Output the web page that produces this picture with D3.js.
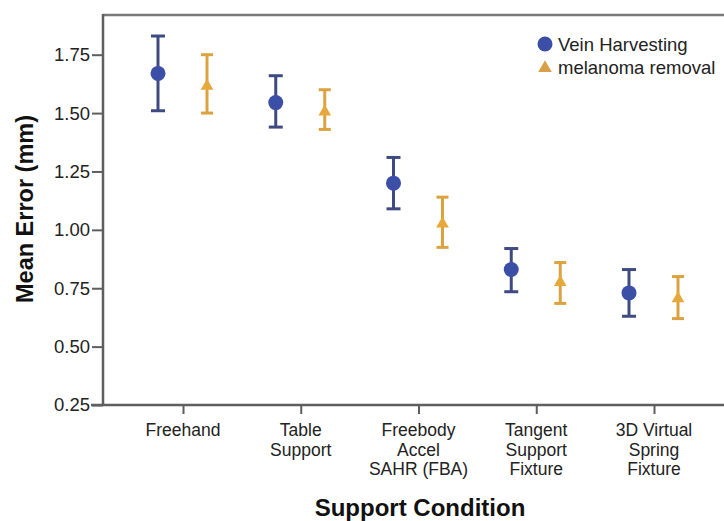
<!DOCTYPE html>
<html>
<head>
<meta charset="utf-8">
<script src="https://cdn.jsdelivr.net/npm/d3@7"></script>
<style>
  html, body { margin: 0; padding: 0; background: #fff; }
  svg { display: block; font-family: "Liberation Sans", Arial, sans-serif; }
</style>
</head>
<body>
<svg id="chart" width="724" height="521"></svg>
<script>
// Support conditions (x categories), each split into display lines
const categories = ["Freehand", "Table Support", "Freebody Accel SAHR (FBA)", "Tangent Support Fixture", "3D Virtual Spring Fixture"];
const categoryLines = [["Freehand"], ["Table", "Support"], ["Freebody", "Accel", "SAHR (FBA)"], ["Tangent", "Support", "Fixture"], ["3D Virtual", "Spring", "Fixture"]];

// Vein Harvesting: mean error and error-bar limits (mm)
const veinMean = [1.67, 1.545, 1.20, 0.83, 0.73];
const veinLow  = [1.51, 1.44, 1.09, 0.735, 0.63];
const veinHigh = [1.83, 1.66, 1.31, 0.92, 0.83];

// melanoma removal: mean error and error-bar limits (mm)
const melMean = [1.62, 1.51, 1.03, 0.78, 0.71];
const melLow  = [1.50, 1.43, 0.925, 0.685, 0.62];
const melHigh = [1.75, 1.60, 1.14, 0.86, 0.80];

const yTicks = [0.25, 0.50, 0.75, 1.00, 1.25, 1.50, 1.75];

const svg = d3.select("#chart");
const plot = { left: 103, top: 15, right: 740, bottom: 405 };
const labelSize = 18.5;
const catSize = 17.5;

const x = d3.scalePoint().domain(categories).range([183, 654]);
const y = d3.scaleLinear().domain([0.25, 1.92]).range([plot.bottom, plot.top]);

const series = [
  { name: "Vein Harvesting", mean: veinMean, low: veinLow, high: veinHigh, offset: -25,
    bar: "#3f4a82", fill: "#3b4fa6", shape: "circle", cap: 14 },
  { name: "melanoma removal", mean: melMean, low: melLow, high: melHigh, offset: 24,
    bar: "#dca23f", fill: "#e6a83a", shape: "triangle", cap: 12 }
];

// Frame
const frame = "#5e5e5e";
svg.append("line").attr("x1", plot.left).attr("x2", plot.right).attr("y1", plot.top).attr("y2", plot.top)
  .attr("stroke", "#7a7a7a").attr("stroke-width", 2.5);

// Y axis
const yAxis = svg.append("g").attr("transform", `translate(${plot.left},0)`)
  .call(d3.axisLeft(y).tickValues(yTicks).tickFormat(d3.format(".2f")).tickSize(11).tickPadding(2));
yAxis.select(".domain").remove();
yAxis.selectAll(".tick line").attr("stroke", frame).attr("stroke-width", 2);
yAxis.selectAll(".tick text").attr("font-size", labelSize).attr("fill", "#222").attr("font-family", "Liberation Sans, Arial, sans-serif");
svg.append("line").attr("x1", plot.left).attr("x2", plot.left).attr("y1", plot.top - 1).attr("y2", plot.bottom + 1)
  .attr("stroke", frame).attr("stroke-width", 2.5);

// X axis
const xAxis = svg.append("g").attr("transform", `translate(0,${plot.bottom})`)
  .call(d3.axisBottom(x).tickSize(9).tickFormat(""));
xAxis.select(".domain").remove();
xAxis.selectAll(".tick line").attr("stroke", frame).attr("stroke-width", 2);
svg.append("line").attr("x1", plot.left - 12).attr("x2", plot.right).attr("y1", plot.bottom).attr("y2", plot.bottom)
  .attr("stroke", frame).attr("stroke-width", 2.5);

categories.forEach((c, i) => {
  const t = svg.append("text").attr("x", x(c)).attr("y", 436)
    .attr("text-anchor", "middle").attr("font-size", catSize).attr("fill", "#222");
  categoryLines[i].forEach((ln, j) => {
    t.append("tspan").attr("x", x(c)).attr("dy", j === 0 ? 0 : 19.6).text(ln);
  });
});

// Axis titles
svg.append("text").attr("x", 420).attr("y", 516).attr("text-anchor", "middle")
  .attr("font-size", 24).attr("font-weight", "bold").attr("fill", "#111").text("Support Condition");
svg.append("text").attr("transform", "translate(33,209) rotate(-90)").attr("text-anchor", "middle")
  .attr("font-size", 23.5).attr("font-weight", "bold").attr("fill", "#111").text("Mean Error (mm)");

// Error bars and markers
const triangle = d3.symbol().type(d3.symbolTriangle).size(70);
series.forEach(s => {
  const g = svg.append("g");
  categories.forEach((c, i) => {
    const cx = x(c) + s.offset;
    g.append("line").attr("x1", cx).attr("x2", cx).attr("y1", y(s.high[i])).attr("y2", y(s.low[i]))
      .attr("stroke", s.bar).attr("stroke-width", 3);
    [s.high[i], s.low[i]].forEach(v => {
      g.append("line").attr("x1", cx - s.cap / 2).attr("x2", cx + s.cap / 2).attr("y1", y(v)).attr("y2", y(v))
        .attr("stroke", s.bar).attr("stroke-width", 3);
    });
    if (s.shape === "circle") {
      g.append("circle").attr("cx", cx).attr("cy", y(s.mean[i])).attr("r", 7.5).attr("fill", s.fill);
    } else {
      g.append("path").attr("d", triangle).attr("transform", `translate(${cx},${y(s.mean[i]) + 1})`).attr("fill", s.fill);
    }
  });
});

// Legend
const legend = svg.append("g");
legend.append("circle").attr("cx", 545).attr("cy", 44).attr("r", 7.5).attr("fill", series[0].fill);
legend.append("path").attr("d", d3.symbol().type(d3.symbolTriangle).size(80)).attr("transform", "translate(545,68)").attr("fill", "#d9a048");
legend.append("text").attr("x", 558).attr("y", 51).attr("font-size", labelSize).attr("fill", "#222").text(series[0].name);
legend.append("text").attr("x", 558).attr("y", 74).attr("font-size", labelSize).attr("fill", "#222").text(series[1].name);
</script>
</body>
</html>
